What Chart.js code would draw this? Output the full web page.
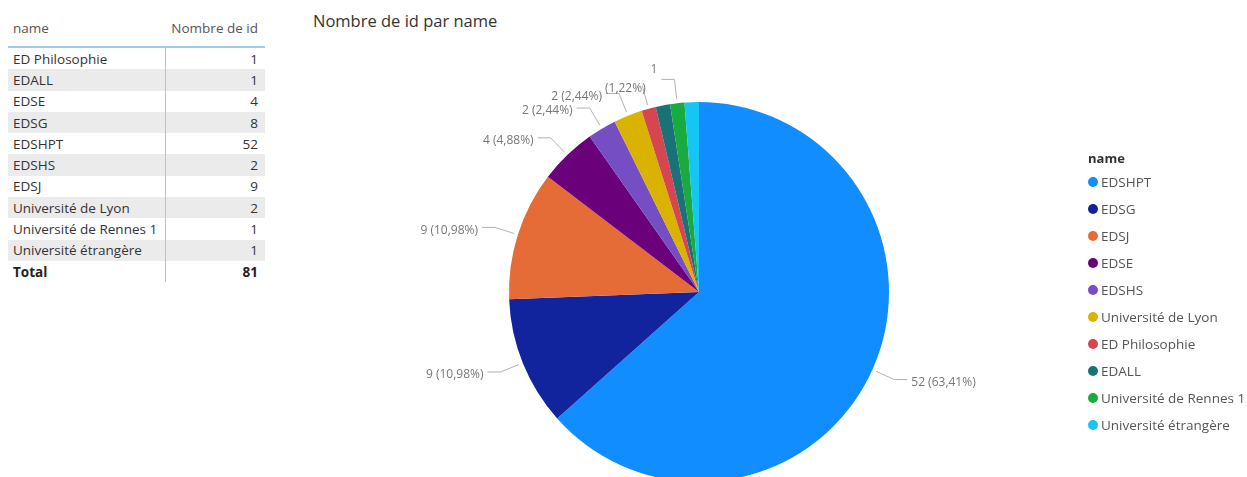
<!DOCTYPE html>
<html>
<head>
<meta charset="utf-8">
<script src="https://cdn.jsdelivr.net/npm/chart.js@4"></script>
<style>
  html, body { margin: 0; padding: 0; background: #fff; overflow: hidden; width: 1247px; height: 477px; }
  body { font-family: 'Open Sans', 'Noto Sans', sans-serif; position: relative; }
  #tbl { position: absolute; left: 8px; top: 18px; width: 257px; border-collapse: collapse; font-size: 13.5px; color: #333; }
  #tbl th { font-weight: normal; color: #555; height: 27px; padding: 1px 5px 0 5px; border-bottom: 2px solid #9ccbec; vertical-align: top; line-height: 18px; }
  #tbl td { height: 21.3px; padding: 0 5px; line-height: 20px; }
  #tbl th:first-child, #tbl td:first-child { text-align: left; width: 147px; }
  #tbl td:first-child { border-right: 1px solid #9ccbec; }
  #tbl th:last-child, #tbl td:last-child { text-align: right; padding-right: 7px; }
  #tbl tbody tr:nth-child(even) td { background: #ebebeb; }
  #tbl tr.total td { font-weight: bold; color: #222; }
  #title { position: absolute; left: 313px; top: 9px; font-size: 16.5px; color: #333; }
  #pie { position: absolute; left: 300px; top: 42px; }
  #legend { position: absolute; left: 1088px; top: 149px; color: #555; font-size: 13.5px; white-space: nowrap; }
  #legend .ttl { font-weight: bold; color: #333; font-size: 13px; height: 18px; line-height: 18px; margin-bottom: 5px; }
  #legend .item { height: 27px; line-height: 20px; display: flex; align-items: flex-start; }
  #legend .dot { width: 10px; height: 10px; border-radius: 50%; margin: 5px 3px 0 0; flex: none; }
</style>
</head>
<body>
<table id="tbl">
  <thead><tr><th>name</th><th>Nombre de id</th></tr></thead>
  <tbody></tbody>
</table>
<div id="title">Nombre de id par name</div>
<canvas id="pie" width="798" height="500"></canvas>
<div id="legend"></div>
<script>
// table data (left visual)
const tableNames = ['ED Philosophie', 'EDALL', 'EDSE', 'EDSG', 'EDSHPT', 'EDSHS', 'EDSJ', 'Université de Lyon', 'Université de Rennes 1', 'Université étrangère'];
const tableCounts = [1, 1, 4, 8, 52, 2, 9, 2, 1, 1];

// pie data
const pieNames = ['EDSHPT', 'EDSG', 'EDSJ', 'EDSE', 'EDSHS', 'Université de Lyon', 'ED Philosophie', 'EDALL', 'Université de Rennes 1', 'Université étrangère'];
const pieCounts = [52, 9, 9, 4, 2, 2, 1, 1, 1, 1];
const pieColors = ['#118DFF', '#12239E', '#E66C37', '#6B007B', '#744EC2', '#D9B300', '#D64550', '#197278', '#1AAB40', '#15C6F4'];
// which part of each data label is visible ('both', 'value', 'pct', 'none')
const labelParts = ['both', 'both', 'both', 'both', 'both', 'both', 'pct', 'none', 'value', 'none'];

// build table
const tbody = document.querySelector('#tbl tbody');
tableNames.forEach((n, i) => {
    const tr = document.createElement('tr');
    tr.innerHTML = `<td>${n}</td><td>${tableCounts[i]}</td>`;
    tbody.appendChild(tr);
});
const totalRow = document.createElement('tr');
totalRow.className = 'total';
totalRow.innerHTML = `<td>Total</td><td>${tableCounts.reduce((a, b) => a + b, 0)}</td>`;
tbody.appendChild(totalRow);

// outside labels with leader lines
const pieTotal = pieCounts.reduce((a, b) => a + b, 0);
const outLabels = {
    id: 'outLabels',
    afterDatasetsDraw(chart) {
        const ctx = chart.ctx;
        const meta = chart.getDatasetMeta(0);
        const boxes = [];
        ctx.save();
        ctx.font = "12px 'Open Sans', sans-serif";
        ctx.textBaseline = 'middle';
        meta.data.forEach((arc, i) => {
            const mode = labelParts[i];
            if (mode === 'none') return;
            const p = arc.getProps(['x', 'y', 'startAngle', 'endAngle', 'outerRadius'], true);
            const mid = (p.startAngle + p.endAngle) / 2;
            const dx = Math.cos(mid), dy = Math.sin(mid);
            const side = dx >= 0 ? 1 : -1;
            const ax = p.x + (p.outerRadius + 4) * dx, ay = p.y + (p.outerRadius + 4) * dy;
            const ex = p.x + (p.outerRadius + 24) * dx, ey = p.y + (p.outerRadius + 24) * dy;
            const hl = mode === 'pct' ? 0 : 13;
            const tx = ex + side * hl;
            const pct = (pieCounts[i] / pieTotal * 100).toFixed(2).replace('.', ',') + '%';
            let txt = pieCounts[i] + ' (' + pct + ')';
            if (mode === 'value') txt = String(pieCounts[i]);
            if (mode === 'pct') txt = '(' + pct + ')';
            const w = ctx.measureText(txt).width;
            const ty = mode === 'value' ? ey - 10 : ey + 3;
            // text box, pushed right of any label it would overlap
            let x0 = side > 0 ? tx + 4 : tx - 4 - w;
            boxes.forEach(b => {
                if (Math.abs(b.y - ty) < 13 && x0 < b.x1 && x0 + w > b.x0) x0 = b.x1 + 3;
            });
            boxes.push({ x0: x0, x1: x0 + w, y: ty });
            ctx.strokeStyle = '#b3b3b3';
            ctx.lineWidth = 1;
            ctx.beginPath();
            ctx.moveTo(ax, ay);
            ctx.lineTo(ex, ey);
            ctx.lineTo(tx, ey);
            ctx.stroke();
            ctx.fillStyle = '#777';
            ctx.textAlign = 'left';
            ctx.fillText(txt, x0, ty);
        });
        ctx.restore();
    }
};

// legend built from the chart's own legend items
const htmlLegend = {
    id: 'htmlLegend',
    afterUpdate(chart) {
        const box = document.getElementById('legend');
        box.innerHTML = '<div class="ttl">name</div>';
        chart.legend.legendItems.forEach(item => {
            const row = document.createElement('div');
            row.className = 'item';
            row.innerHTML = `<span class="dot" style="background:${item.fillStyle}"></span><span>${item.text}</span>`;
            box.appendChild(row);
        });
    }
};

new Chart(document.getElementById('pie'), {
    type: 'pie',
    data: {
        labels: pieNames,
        datasets: [{
            data: pieCounts,
            backgroundColor: pieColors,
            borderWidth: 0
        }]
    },
    options: {
        responsive: false,
        animation: false,
        layout: { padding: { top: 60, bottom: 60, left: 0, right: 0 } },
        plugins: {
            tooltip: { enabled: false },
            legend: { display: false }
        }
    },
    plugins: [outLabels, htmlLegend]
});
</script>
</body>
</html>
